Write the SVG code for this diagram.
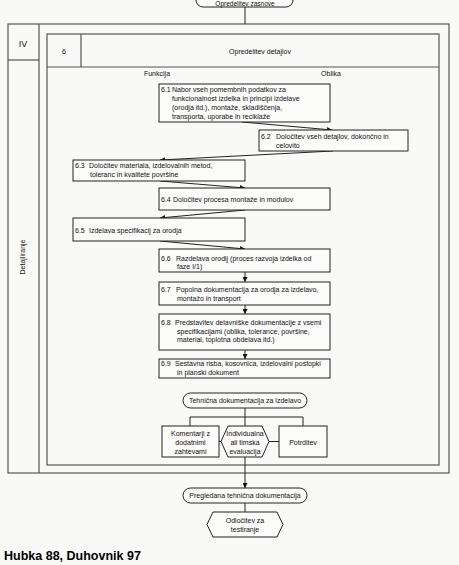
<svg xmlns="http://www.w3.org/2000/svg" width="459" height="565" viewBox="0 0 459 565">
<defs>
<marker id="ah" viewBox="0 0 10 10" refX="10" refY="5" markerWidth="5" markerHeight="5" orient="auto-start-reverse" markerUnits="userSpaceOnUse"><path d="M0,0 L10,5 L0,10 z" fill="#111"/></marker>
<style>
text{font-family:"Liberation Sans",Arial,sans-serif;font-size:7px;fill:#111}
.c{text-anchor:middle}
.frame{fill:none;stroke:#555;stroke-width:1.2}
.box{fill:#fbfbf9;stroke:#222;stroke-width:1}
.con{fill:none;stroke:#222;stroke-width:1}
.arr{fill:none;stroke:#222;stroke-width:1;marker-end:url(#ah)}
</style>
</defs>
<rect width="459" height="565" fill="#f9f9f7"/>

<g id="start">
<rect class="box" x="196" y="-9" width="97" height="16" rx="7"/>
<text class="c" x="245" y="5.5" style="font-size:6.5px">Opredelitev zasnove</text>
</g>

<g id="phase-frame">
<rect class="frame" x="8" y="24" width="441" height="449"/>
<line class="frame" x1="39" y1="24" x2="39" y2="473"/>
<line class="frame" x1="8" y1="60" x2="39" y2="60"/>
<text class="c" x="23" y="47" style="font-size:9px">IV</text>
<text class="c" transform="translate(25,257) rotate(-90)">Detajliranje</text>
</g>

<g id="step-frame">
<rect class="frame" x="47" y="34" width="392" height="431"/>
<line class="frame" x1="47" y1="67" x2="439" y2="67"/>
<line class="frame" x1="81" y1="34" x2="81" y2="67"/>
<text class="c" x="64" y="54">6</text>
<text class="c" x="260" y="54">Opredelitev detajlov</text>
<text class="c" x="157" y="76">Funkcija</text>
<text class="c" x="331" y="76">Oblika</text>
</g>

<g id="connectors">
<line class="con" x1="245" y1="7" x2="245" y2="24"/>
<line class="arr" x1="242" y1="122" x2="332" y2="130"/>
<line class="arr" x1="333" y1="151" x2="160" y2="160"/>
<line class="arr" x1="160" y1="181" x2="245" y2="188"/>
<line class="arr" x1="245" y1="210" x2="160" y2="218"/>
<line class="arr" x1="160" y1="241" x2="245" y2="249"/>
<line class="arr" x1="245" y1="272" x2="245" y2="282"/>
<line class="arr" x1="245" y1="305" x2="245" y2="314"/>
<line class="arr" x1="245" y1="350" x2="245" y2="359"/>
<line class="con" x1="245" y1="408" x2="245" y2="426"/>
<polyline class="con" points="190,426 190,417 303,417 303,426"/>
<line class="con" x1="219" y1="441.5" x2="221" y2="441.5"/>
<line class="con" x1="269" y1="441.5" x2="279" y2="441.5"/>
<line class="arr" x1="245" y1="457" x2="245" y2="488"/>
<line class="con" x1="245" y1="503" x2="245" y2="512"/>
</g>

<g id="n61">
<rect class="box" x="159" y="84" width="171" height="38"/>
<text x="161" y="92">6.1</text>
<text x="172" y="92">Nabor vseh pomembnih podatkov za</text>
<text x="172" y="101">funkcionalnost izdelka in principi izdelave</text>
<text x="172" y="110">(orodja itd.), montaže, skladiščenja,</text>
<text x="172" y="119">transporta, uporabe in reciklaže</text>
</g>

<g id="n62">
<rect class="box" x="259" y="130" width="149" height="21"/>
<text x="261" y="139">6.2</text>
<text x="276" y="139">Določitev vseh detajlov, dokončno in</text>
<text x="276" y="148">celovito</text>
</g>

<g id="n63">
<rect class="box" x="73" y="160" width="172" height="21"/>
<text x="75" y="168">6.3</text>
<text x="89" y="168">Določitev materiala, izdelovalnih metod,</text>
<text x="90" y="177">toleranc in kvalitete površine</text>
</g>

<g id="n64">
<rect class="box" x="159" y="188" width="171" height="22"/>
<text x="161" y="202">6.4</text>
<text x="173" y="202">Določitev procesa montaže in modulov</text>
</g>

<g id="n65">
<rect class="box" x="73" y="218" width="172" height="23"/>
<text x="75" y="233">6.5</text>
<text x="89" y="233">Izdelava specifikacij za orodja</text>
</g>

<g id="n66">
<rect class="box" x="159" y="249" width="171" height="23"/>
<text x="161" y="261">6.6</text>
<text x="176" y="261">Razdelava orodij (proces razvoja izdelka od</text>
<text x="177" y="269">faze I/1)</text>
</g>

<g id="n67">
<rect class="box" x="159" y="282" width="171" height="23"/>
<text x="161" y="292">6.7</text>
<text x="176" y="292">Popolna dokumentacija za orodja za izdelavo,</text>
<text x="177" y="301">montažo in transport</text>
</g>

<g id="n68">
<rect class="box" x="159" y="314" width="171" height="36"/>
<text x="161" y="325">6.8</text>
<text x="175" y="325">Predstavitev delavniške dokumentacije z vsemi</text>
<text x="177" y="334">specifikacijami (oblika, tolerance, površine,</text>
<text x="177" y="342">material, toplotna obdelava itd.)</text>
</g>

<g id="n69">
<rect class="box" x="159" y="359" width="171" height="19"/>
<text x="161" y="366">6.9</text>
<text x="175" y="366">Sestavna risba, kosovnica, izdelovalni postopki</text>
<text x="177" y="375">in planski dokument</text>
</g>

<g id="tech-doc">
<rect class="box" x="183" y="393" width="124" height="15" rx="7.5"/>
<text class="c" x="245" y="403">Tehnična dokumentacija za izdelavo</text>
</g>

<g id="comments">
<rect class="box" x="162" y="426" width="57" height="31"/>
<text class="c" x="190.5" y="436">Komentarji z</text>
<text class="c" x="190.5" y="445">dodatnimi</text>
<text class="c" x="190.5" y="454">zahtevami</text>
</g>

<g id="evaluation">
<polygon class="box" points="228,426 262,426 269,441.5 262,457 228,457 221,441.5"/>
<text class="c" x="245" y="436">Individualna</text>
<text class="c" x="245" y="445">ali timska</text>
<text class="c" x="245" y="454">evaluacija</text>
</g>

<g id="confirm">
<rect class="box" x="279" y="426" width="48" height="31"/>
<text class="c" x="303" y="445">Potrditev</text>
</g>

<g id="reviewed">
<rect class="box" x="183" y="488" width="124" height="15" rx="7.5"/>
<text class="c" x="245" y="498">Pregledana tehnična dokumentacija</text>
</g>

<g id="decision">
<polygon class="box" points="213,512 277,512 283,524.5 277,537 213,537 207,524.5"/>
<text class="c" x="245" y="523">Odločitev za</text>
<text class="c" x="245" y="532">testiranje</text>
</g>

<text x="4" y="560" style="font-size:12.5px;font-weight:bold;fill:#000">Hubka 88, Duhovnik 97</text>
</svg>
